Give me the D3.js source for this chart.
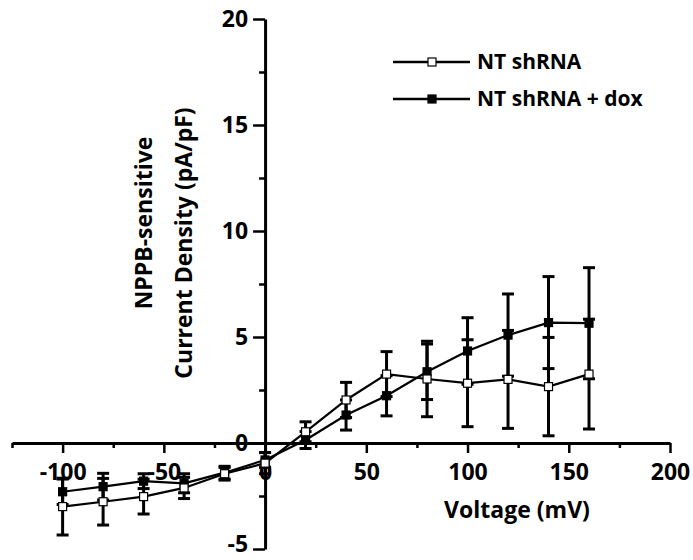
<!DOCTYPE html>
<html>
<head>
<meta charset="utf-8">
<script src="https://cdn.jsdelivr.net/npm/d3@7"></script>
<style>
  body { margin: 0; background: #fff; }
  text { font-family: "Open Sans", Lato, sans-serif; font-weight: 700; fill: #000; }
</style>
</head>
<body>
<div id="chart"></div>
<script>
// voltages (mV)
let voltage = [-100, -80, -60, -40, -20, 0, 20, 40, 60, 80, 100, 120, 140, 160];

// NT shRNA (open squares)
let ntMean = [-3.0, -2.77, -2.53, -2.12, -1.45, -0.95, 0.53, 2.03, 3.25, 3.02, 2.82, 3.0, 2.66, 3.25];
let ntErr  = [1.34, 1.1, 0.82, 0.5, 0.3, 0.5, 0.47, 0.83, 1.06, 1.78, 2.05, 2.31, 2.32, 2.59];

// NT shRNA + dox (filled squares)
let doxMean = [-2.3, -2.06, -1.8, -1.9, -1.4, -0.8, 0.14, 1.32, 2.23, 3.36, 4.34, 5.09, 5.68, 5.65];
let doxErr  = [0.6, 0.63, 0.35, 0.45, 0.3, 0.35, 0.4, 0.71, 0.95, 1.31, 1.57, 1.94, 2.17, 2.62];

let xMajor = [-100, -50, 0, 50, 100, 150, 200];
let xMinor = [-125, -75, -25, 25, 75, 125, 175];
let yMajor = [-5, 0, 5, 10, 15, 20];
let yMinor = [-2.5, 2.5, 7.5, 12.5, 17.5];

let seriesNames = ["NT shRNA", "NT shRNA + dox"];

let width = 693, height = 560;

let svg = d3.select('#chart').append('svg')
	.attr('width', width)
	.attr('height', height);

let xScale = d3.scaleLinear().domain([-125, 200]).range([12, 670]);
let yScale = d3.scaleLinear().domain([-5, 20]).range([549, 19]);

// minor ticks
svg.append('g')
	.attr('transform', `translate(0,${yScale(0)})`)
	.call(d3.axisBottom(xScale).tickValues(xMinor).tickSize(5).tickSizeOuter(0).tickFormat(''))
	.call(g => g.select('.domain').remove())
	.call(g => g.selectAll('line').attr('stroke-width', 2.5));

svg.append('g')
	.attr('transform', `translate(${xScale(0)},0)`)
	.call(d3.axisLeft(yScale).tickValues(yMinor).tickSize(6).tickSizeOuter(0).tickFormat(''))
	.call(g => g.select('.domain').remove())
	.call(g => g.selectAll('line').attr('stroke-width', 2.5));

// major axes (plain hyphen for negatives, like the original)
let xAxis = svg.append('g')
	.attr('transform', `translate(0,${yScale(0)})`)
	.call(d3.axisBottom(xScale).tickValues(xMajor).tickSize(10).tickSizeOuter(0).tickPadding(11).tickFormat(d => String(d)));

let yAxis = svg.append('g')
	.attr('transform', `translate(${xScale(0)},0)`)
	.call(d3.axisLeft(yScale).tickValues(yMajor).tickSize(12).tickSizeOuter(0).tickPadding(5).tickFormat(d => String(d)));

[xAxis, yAxis].forEach(g => {
	g.select('.domain').attr('stroke-width', 3);
	g.selectAll('line').attr('stroke-width', 2.5);
	g.selectAll('text')
		.style('font-size', '23px')
		.style('font-family', '"Open Sans", sans-serif')
		.style('font-weight', '700');
});

// keep the bottom label inside the frame
yAxis.selectAll('text').filter(d => d === -5).attr('dy', '0.1em');

// axis titles
svg.append('text')
	.attr('x', 517)
	.attr('y', 518)
	.style('text-anchor', 'middle')
	.style('font-size', '23px')
	.text('Voltage (mV)');

svg.append('text')
	.attr('transform', 'translate(152,223) rotate(-90)')
	.style('text-anchor', 'middle')
	.style('font-size', '23px')
	.text('NPPB-sensitive');

svg.append('text')
	.attr('transform', 'translate(192,243) rotate(-90)')
	.style('text-anchor', 'middle')
	.style('font-size', '23px')
	.text('Current Density (pA/pF)');

let ntData = voltage.map((v, i) => ({ v: v, m: ntMean[i], e: ntErr[i] }));
let doxData = voltage.map((v, i) => ({ v: v, m: doxMean[i], e: doxErr[i] }));

// error bars
function errorBars(data) {
	let g = svg.append('g').attr('stroke', '#000').attr('stroke-width', 3);
	g.selectAll('.bar').data(data).enter().append('line')
		.attr('x1', d => xScale(d.v)).attr('x2', d => xScale(d.v))
		.attr('y1', d => yScale(d.m - d.e)).attr('y2', d => yScale(d.m + d.e));
	[1, -1].forEach(s => {
		g.selectAll('.cap' + s).data(data).enter().append('line')
			.attr('x1', d => xScale(d.v) - 6).attr('x2', d => xScale(d.v) + 6)
			.attr('y1', d => yScale(d.m + s * d.e)).attr('y2', d => yScale(d.m + s * d.e));
	});
}
errorBars(doxData);
errorBars(ntData);

let line = d3.line().x(d => xScale(d.v)).y(d => yScale(d.m));

[doxData, ntData].forEach(data => {
	svg.append('path')
		.datum(data)
		.attr('d', line)
		.attr('fill', 'none')
		.attr('stroke', '#000')
		.attr('stroke-width', 2.2);
});

function markers(data, fill) {
	svg.append('g').selectAll('rect').data(data).enter().append('rect')
		.attr('x', d => xScale(d.v) - 4)
		.attr('y', d => yScale(d.m) - 4)
		.attr('width', 8)
		.attr('height', 8)
		.attr('fill', fill)
		.attr('stroke', '#000')
		.attr('stroke-width', 1.2);
}
markers(doxData, '#000');
markers(ntData, '#fff');

// legend
let legend = svg.append('g');
seriesNames.forEach((name, i) => {
	let ly = 62 + i * 37;
	legend.append('line')
		.attr('x1', 393).attr('x2', 470)
		.attr('y1', ly).attr('y2', ly)
		.attr('stroke', '#000').attr('stroke-width', 2.5);
	legend.append('rect')
		.attr('x', 428).attr('y', ly - 4)
		.attr('width', 8).attr('height', 8)
		.attr('fill', i === 0 ? '#fff' : '#000')
		.attr('stroke', '#000').attr('stroke-width', 1.2);
	legend.append('text')
		.attr('x', 477).attr('y', ly)
		.attr('dy', '0.35em')
		.style('font-size', '21px')
		.text(name);
});
</script>
</body>
</html>
